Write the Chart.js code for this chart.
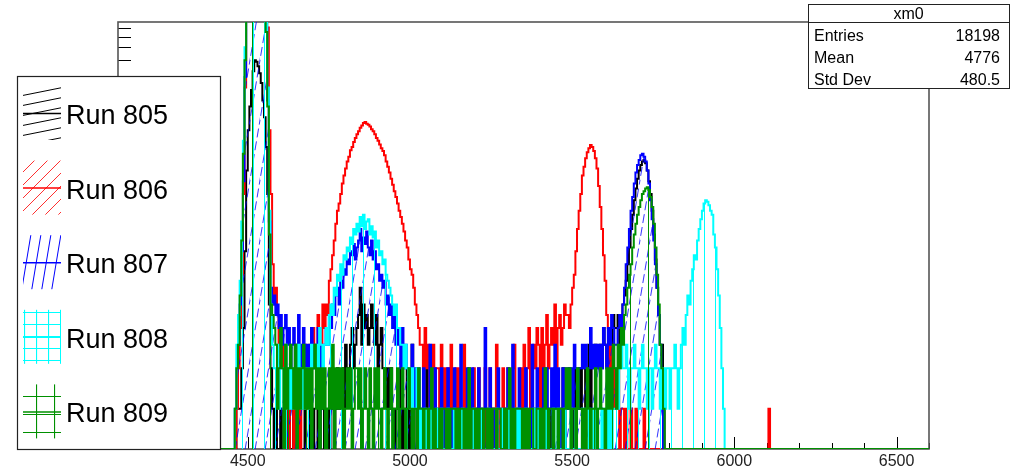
<!DOCTYPE html>
<html><head><meta charset="utf-8">
<script src="https://cdn.jsdelivr.net/npm/chart.js@4.4.0/dist/chart.umd.min.js"></script>
<style>html,body{margin:0;padding:0;background:#fff;overflow:hidden}canvas{display:block}</style>
</head><body>
<canvas id="c" width="1018" height="473"></canvas>
<script>
// ---- data (histogram bin contents, bins of width BIN starting at X0) ----
const X0 = 4435;
const BIN = 5;
const X_MIN = 4100, X_MAX = 6600;
const Y_MIN = 0.5, Y_MAX = 771;
const runLabels = ['Run 805', 'Run 806', 'Run 807', 'Run 808', 'Run 809'];
const runColors = ['#000000', '#ff0000', '#0000ff', '#00ffff', '#009000'];
const xTickLabels = ['4500', '5000', '5500', '6000', '6500'];
const statsTitle = 'xm0';
const statsLabels = ['Entries', 'Mean', 'Std Dev'];
const statsValues = ['18198', '4776', '480.5'];

const run805 = [0,0,0,0,0,0,1,1,1,2,
4,15,60,120,180,240,330,400,390,360,
320,270,200,150,90,40,6,2,1,0,
1,0,0,1,0,0,1,0,1,0,
0,1,0,0,1,0,0,0,1,0,
0,1,0,1,0,0,1,0,1,1,
0,1,1,0,2,1,0,1,2,1,
1,2,1,3,2,2,3,4,2,3,
4,5,8,3,6,4,5,3,4,6,
4,3,5,2,3,4,2,2,1,2,
1,2,1,0,1,1,0,2,0,1,
0,2,0,1,3,0,0,2,0,1,
1,0,0,2,0,0,1,0,0,1,
0,0,1,0,0,0,1,0,1,0,
0,1,0,0,1,0,0,0,0,1,
0,0,1,0,1,0,0,1,0,0,
1,0,0,0,1,0,1,0,0,0,
0,1,0,0,0,1,0,0,1,0,
0,0,1,0,1,0,0,1,0,1,
1,0,1,0,0,2,1,0,1,1,
0,1,2,1,1,0,1,2,0,1,
1,2,1,0,2,1,1,2,1,2,
2,1,2,3,1,2,2,3,2,2,
3,2,4,3,2,3,4,3,5,4,
4,5,3,4,6,7,9,12,16,22,
28,36,44,52,60,66,70,72,68,60,
50,40,30,20,13,8,5,3,3,1,
0];

const run806 = [0,0,0,0,0,0,1,2,4,10,
40,250,1000,2200,3200,4000,4600,4900,4800,4500,
4000,3400,2800,2100,1500,700,120,40,12,6,
8,5,3,4,2,3,1,2,0,1,
2,0,1,3,1,0,2,1,3,2,
1,3,2,4,2,3,5,4,3,6,
4,6,5,9,11,14,18,24,30,34,
40,48,55,62,70,76,85,90,98,105,
112,118,125,130,136,138,134,132,128,122,
118,112,105,100,94,88,84,78,70,64,
58,52,47,42,38,34,30,27,24,21,
18,16,13,11,10,8,6,5,4,3,
3,2,4,2,3,1,2,3,1,2,
2,1,3,0,2,1,2,0,3,1,
1,2,0,2,1,0,3,1,0,2,
0,1,2,0,1,2,0,1,0,2,
1,0,2,1,0,1,3,0,1,0,
2,0,1,2,1,0,2,3,1,0,
1,2,0,3,1,2,4,1,2,3,
2,4,3,1,4,2,3,5,2,3,
4,3,6,2,4,5,3,4,6,5,
5,4,6,8,10,15,22,30,40,55,
64,74,82,88,93,90,84,74,62,46,
32,22,14,9,5,4,2,3,1,2,
1,2,0,1,1,0,1,0,0,1,
0,0,1,0,0,0,0,1,0,0,
0,0,0,0,0,0,0,0,0,0,
0,0,0,0,0,0,0,0,0,0,
0,0,0,0,0,0,0,0,0,0,
0,0,0,0,0,0,0,0,0,0,
0,0,0,0,0,0,0,0,0,0,
0,0,0,0,0,0,0,0,0,0,
0,0,0,0,0,0,0,0,0,0,
0,0,0,0,1,0];

const run807 = [0,0,0,0,0,1,2,3,6,15,
50,300,1200,2500,3500,4200,4800,5000,4800,4300,
3600,2900,2100,1400,700,200,25,8,6,7,
5,6,4,5,3,4,5,3,4,2,
3,4,2,3,5,2,3,4,2,3,
2,3,4,2,3,2,4,3,2,3,
3,4,3,5,4,6,5,7,8,6,
9,8,11,10,13,12,15,14,17,13,
16,18,22,15,19,17,21,16,14,18,
13,15,11,12,9,10,8,9,6,7,
5,6,4,5,3,4,3,2,4,2,
3,2,2,1,3,1,2,1,2,1,
1,2,1,0,1,3,1,1,2,0,
1,1,2,1,0,1,2,1,0,1,
2,0,1,1,3,1,0,1,2,1,
1,2,0,1,1,2,1,0,1,4,
1,0,2,1,1,0,1,2,1,1,
0,1,1,2,0,1,3,1,1,0,
2,1,0,1,2,1,1,0,3,1,
1,2,1,1,0,2,1,2,1,1,
2,1,3,1,2,1,0,2,1,2,
1,2,2,1,3,2,1,2,2,3,
2,3,2,2,4,2,3,2,3,2,
3,2,4,3,2,4,3,5,4,3,
3,4,5,4,6,8,12,16,22,30,
38,48,58,66,72,78,80,76,70,60,
48,36,26,18,12,8,5,3,1,0];

const run808 = [0,0,0,0,0,1,3,5,9,25,
100,500,1500,2800,3800,4500,5000,5200,5000,4500,
3800,3000,2200,1400,800,250,30,6,3,2,
2,3,1,2,2,1,3,2,1,2,
1,2,2,1,3,2,1,2,1,2,
2,1,3,2,2,3,2,4,3,2,
3,4,3,5,6,5,8,7,10,9,
12,10,14,13,16,15,19,17,22,20,
24,21,27,23,28,22,25,26,20,23,
19,21,16,18,14,15,12,13,10,9,
8,7,6,5,6,4,4,3,3,2,
3,2,2,1,2,1,1,2,0,1,
0,0,1,0,0,1,0,0,0,1,
0,0,1,0,0,0,1,0,0,0,
1,0,0,0,0,1,0,0,0,1,
0,0,1,0,0,0,0,1,0,0,
0,1,0,0,0,0,1,0,0,1,
0,0,0,1,0,0,0,0,1,0,
1,0,0,0,1,0,0,0,0,1,
0,0,1,0,0,0,1,0,0,0,
0,1,0,0,1,0,0,0,1,0,
0,0,1,0,0,1,0,0,0,1,
1,0,0,1,0,0,1,0,1,0,
0,1,0,1,1,0,1,0,1,1,
2,1,2,3,2,2,3,2,1,2,
2,3,2,2,1,2,3,2,2,1,
2,2,1,2,3,2,2,1,2,2,
1,2,2,1,2,2,3,2,1,2,
3,4,3,5,7,6,9,11,14,13,
18,22,26,30,34,36,35,33,30,28,
20,16,11,7,4,2,1,0,0,0];

const run809 = [0,0,0,0,0,1,2,3,7,18,
80,400,1300,2600,3600,4300,4800,5000,4700,4200,
3500,2800,2000,1300,650,180,20,6,5,4,
3,1,2,4,2,0,3,1,2,3,
2,1,3,0,2,1,2,3,1,2,
1,2,0,2,3,1,2,0,2,1,
2,0,1,2,1,3,0,2,1,2,
1,2,0,1,2,1,2,0,1,2,
2,1,2,0,1,2,1,0,2,1,
0,2,1,2,1,0,1,2,1,0,
1,2,0,1,1,2,0,1,2,1,
0,1,2,1,0,1,1,0,2,1,
1,0,1,1,0,1,2,0,1,0,
0,1,0,1,1,0,1,0,1,1,
1,0,1,0,1,1,0,1,0,2,
0,1,1,0,1,0,1,1,0,1,
1,0,1,0,1,1,0,1,1,0,
0,1,0,1,2,0,1,0,1,1,
1,1,0,1,0,1,0,1,1,0,
0,1,1,0,1,0,2,1,0,1,
1,0,1,1,0,1,1,0,1,2,
1,2,0,1,1,0,2,1,1,0,
1,0,2,1,0,1,1,2,0,1,
2,1,1,0,2,1,2,1,3,2,
1,3,2,4,3,5,6,8,10,12,
16,20,24,28,32,36,40,42,44,45,
43,38,32,24,16,10,6,3,2,1,
0];

const runs = [run805, run806, run807, run808, run809];

// ---- hatch patterns ----
const canvas = document.getElementById('c');
const mainCtx = canvas.getContext('2d');
function tile(w, h, painter) {
  const c = document.createElement('canvas'); c.width = w; c.height = h;
  painter(c.getContext('2d'), w, h);
  return mainCtx.createPattern(c, 'repeat');
}
function slant(w, h, color, lw, dash) {
  return tile(w, h, (g) => {
    g.strokeStyle = color; g.lineWidth = lw;
    if (dash) g.setLineDash(dash);
    for (let k = -1; k <= 1; k++) {
      g.beginPath(); g.moveTo(-w, 2 * h + k * h); g.lineTo(2 * w, -h + k * h); g.stroke();
    }
  });
}
function grid(s, color, lw, vOnly) {
  return tile(s, s, (g) => {
    g.strokeStyle = color; g.lineWidth = lw; g.beginPath();
    g.moveTo(0.5, 0); g.lineTo(0.5, s);
    if (!vOnly) { g.moveTo(0, 0.5); g.lineTo(s, 0.5); }
    g.stroke();
  });
}
const legendPatterns = [
  slant(50, 10, '#000000', 1),
  slant(13, 13, '#ff3030', 1),
  slant(10, 60, '#0000ff', 1),
  grid(12, '#00ffff', 1.2, false),
  grid(18, '#009000', 1.2, false)
];
const plotFills = [
  false,
  false,
  slant(10, 60, 'rgba(0,0,255,0.8)', 1, [9, 4]),
  grid(11, '#00ffff', 1, true),
  grid(18, '#009000', 1, true)
];

function toXY(arr) {
  const pts = [{ x: X_MIN, y: 0 }];
  arr.forEach((v, i) => pts.push({ x: X0 + BIN * (i + 0.5), y: v }));
  pts.push({ x: X_MAX, y: 0 });
  return pts;
}

const datasets = runs.map((arr, i) => ({
  label: runLabels[i],
  data: toXY(arr),
  borderColor: runColors[i],
  borderWidth: 2,
  backgroundColor: plotFills[i] || 'rgba(0,0,0,0)',
  fill: plotFills[i] ? 'start' : false,
  stepped: 'middle',
  pointRadius: 0,
  order: 5 - i
}));

const FONT = "'Liberation Sans', Arial, Helvetica, sans-serif";

const decor = {
  id: 'decor',
  beforeDatasetsDraw(chart) {
    const { ctx, chartArea: a, scales: { x, y } } = chart;
    ctx.save();
    ctx.strokeStyle = '#000'; ctx.lineWidth = 1;
    ctx.beginPath();
    for (let v = X_MIN; v <= X_MAX; v += 100) {
      const px = Math.round(x.getPixelForValue(v)) + 0.5;
      const len = v % 500 === 0 ? 12 : 6;
      ctx.moveTo(px, a.bottom); ctx.lineTo(px, a.bottom - len);
    }
    for (let k = -1; k <= 3; k++) for (let m = 1; m <= 9; m++) {
      const v = m * Math.pow(10, k);
      if (v < Y_MIN || v > Y_MAX) continue;
      const py = Math.round(y.getPixelForValue(v)) + 0.5;
      const len = m === 1 ? 25 : 13;
      ctx.moveTo(a.left, py); ctx.lineTo(a.left + len, py);
    }
    ctx.stroke();
    ctx.strokeStyle = '#555'; ctx.lineWidth = 1.6;
    ctx.strokeRect(a.left, a.top, a.right - a.left, a.bottom - a.top);
    ctx.restore();
  },
  afterDraw(chart) {
    const { ctx, scales: { x } } = chart;
    ctx.save();
    // x tick labels
    ctx.fillStyle = '#222';
    ctx.font = '16px ' + FONT;
    ctx.textAlign = 'center'; ctx.textBaseline = 'alphabetic';
    xTickLabels.forEach(t => ctx.fillText(t, x.getPixelForValue(Number(t)), 466));

    // legend box
    const L = { l: 17, t: 76, r: 220, b: 449 };
    ctx.fillStyle = '#fff';
    ctx.fillRect(L.l, L.t, L.r - L.l, L.b - L.t);
    ctx.strokeStyle = '#222'; ctx.lineWidth = 1.2;
    ctx.strokeRect(L.l + 0.5, L.t + 0.5, L.r - L.l, L.b - L.t);
    runLabels.forEach((lab, i) => {
      const cy = 113 + 74.6 * i;
      ctx.fillStyle = legendPatterns[i];
      ctx.fillRect(23, cy - 27, 38, 54);
      ctx.strokeStyle = runColors[i]; ctx.lineWidth = 1.5;
      ctx.beginPath(); ctx.moveTo(23, cy + 0.5); ctx.lineTo(61, cy + 0.5); ctx.stroke();
      ctx.fillStyle = '#000';
      ctx.font = '27px ' + FONT;
      ctx.textAlign = 'left'; ctx.textBaseline = 'alphabetic';
      ctx.fillText(lab, 66, cy + 11);
    });

    // stats box
    const S = { l: 808, t: 4, r: 1009, b: 88, sep: 22 };
    ctx.fillStyle = '#fff';
    ctx.fillRect(S.l, S.t, S.r - S.l, S.b - S.t);
    ctx.strokeStyle = '#222'; ctx.lineWidth = 1;
    ctx.strokeRect(S.l + 0.5, S.t + 0.5, S.r - S.l, S.b - S.t);
    ctx.beginPath(); ctx.moveTo(S.l, S.sep + 0.5); ctx.lineTo(S.r, S.sep + 0.5); ctx.stroke();
    ctx.fillStyle = '#000';
    ctx.font = '16px ' + FONT;
    ctx.textAlign = 'center';
    ctx.fillText(statsTitle, (S.l + S.r) / 2, 18.5);
    statsLabels.forEach((lab, i) => {
      const base = 41 + 22 * i;
      ctx.textAlign = 'left'; ctx.fillText(lab, 814, base);
      ctx.textAlign = 'right'; ctx.fillText(statsValues[i], 1000, base);
    });
    ctx.restore();
  }
};

new Chart(mainCtx, {
  type: 'line',
  data: { datasets },
  options: {
    responsive: false,
    animation: false,
    devicePixelRatio: 1,
    events: [],
    parsing: false,
    normalized: true,
    layout: { padding: { left: 118, top: 22, right: 1018 - 929, bottom: 473 - 449 } },
    plugins: { legend: { display: false }, tooltip: { enabled: false } },
    scales: {
      x: { type: 'linear', min: X_MIN, max: X_MAX, display: false },
      y: { type: 'logarithmic', min: Y_MIN, max: Y_MAX, display: false }
    },
    elements: { line: { tension: 0 }, point: { radius: 0 } }
  },
  plugins: [decor]
});
</script>
</body></html>
